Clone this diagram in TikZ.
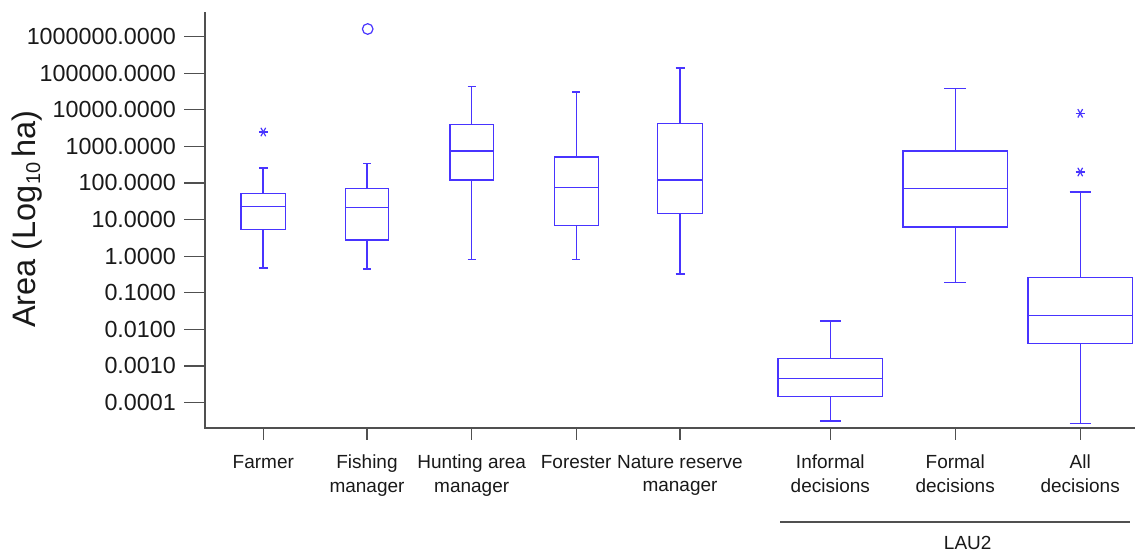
\documentclass[tikz,border=0pt]{standalone}
\usepackage{fontspec}
\setmainfont{Liberation Sans}
\definecolor{bx}{RGB}{72,52,255}
\definecolor{axc}{RGB}{80,80,80}
\definecolor{txt}{RGB}{25,25,25}
% #1 x, #2 half width, #3 cap half, #4 low cap, #5 box bottom, #6 median, #7 box top, #8 up cap, #9 whisker width
\newcommand\bxplot[9]{%
  \draw[boxline] (#1-#2,#7) rectangle (#1+#2,#5);
  \draw[boxline] (#1-#2,#6) -- (#1+#2,#6);
  \draw[boxline,line width=#9] (#1,#7) -- (#1,#8);
  \draw[boxline,line width=#9] (#1-#3,#8) -- (#1+#3,#8);
  \draw[boxline,line width=#9] (#1,#5) -- (#1,#4);
  \draw[boxline,line width=#9] (#1-#3,#4) -- (#1+#3,#4);
}
\newcommand\astmark[2]{%
  \draw[boxline] (#1-4.5,#2) -- (#1+4.5,#2);
  \draw[boxline] (#1-2.4,#2-4.2) -- (#1+2.4,#2+4.2);
  \draw[boxline] (#1-2.4,#2+4.2) -- (#1+2.4,#2-4.2);
}
\begin{document}
\begin{tikzpicture}[x=1pt,y=-1pt,
  boxline/.style={draw=bx,line width=1.2pt},
  axisline/.style={draw=axc,line width=1.2pt},
  ticklab/.style={anchor=east,inner sep=0pt,text=txt,font=\fontsize{23.3}{23.3}\selectfont},
  catlab/.style={anchor=north,inner sep=0pt,align=center,text=txt,font=\fontsize{19}{23.5}\selectfont}]
\useasboundingbox (0,0) rectangle (1135,552);
% axes
\coordinate (ytop) at (205,12);
\coordinate (origin) at (205,428);
\coordinate (xend) at (1135,428);
\draw[axisline] (ytop) -- (origin) -- (xend);
% y ticks and labels
\foreach \v/\lab [count=\i from 0] in {6/1000000.0000,5/100000.0000,4/10000.0000,3/1000.0000,2/100.0000,1/10.0000,0/1.0000,-1/0.1000,-2/0.0100,-3/0.0010,-4/0.0001}{
  \pgfmathsetmacro\yy{36.5+\i*36.6}
  \draw[axisline] (184,\yy) -- (205,\yy);
  \node[ticklab] (yl\i) at (176,\yy) {\lab};
}
% x ticks
\foreach \xx/\nm in {263.3/farmer,367/fishing,471.7/hunting,576.2/forester,680/nature,830.3/informal,955.2/formal,1080.2/all}{
  \draw[axisline] (\xx,428) -- (\xx,440);
  \coordinate (t\nm) at (\xx,455);
}
% category labels
\node[catlab] (lfarmer) at (tfarmer) {Farmer};
\node[catlab] (lfishing) at (tfishing) {Fishing\\manager};
\node[catlab] (lhunting) at (thunting) {Hunting area\\manager};
\node[catlab] (lforester) at (tforester) {Forester};
\node[catlab] (lnature) at (tnature) {Nature reserve\\manager};
\node[catlab] (linformal) at (tinformal) {Informal\\decisions};
\node[catlab] (lformal) at (tformal) {Formal\\decisions};
\node[catlab] (lall) at (tall) {All\\decisions};
% LAU2 group
\coordinate (lauA) at (780,522);
\coordinate (lauB) at (1130,522);
\draw[axisline] (lauA) -- (lauB);
\node[anchor=base,inner sep=0pt,text=txt,font=\fontsize{19}{19}\selectfont] (lau) at (967.7,549) {LAU2};
% y title
\node[rotate=90,anchor=base,inner sep=0pt,text=txt,font=\fontsize{32.5}{32.5}\selectfont] (ytitle) at (35,219)
  {Area (Log{\fontsize{20}{20}\selectfont\raisebox{-5pt}{10}}\,ha)};
% boxplots
\bxplot{263.3}{22.3}{4.5}{267.7}{229.3}{206.7}{193.3}{168}{2pt}
\bxplot{367}{21.7}{4}{269}{240}{207.7}{188.7}{163.3}{1.2pt}
\bxplot{471.7}{21.7}{4}{259.3}{180}{151}{124.7}{86.3}{1.2pt}
\bxplot{576.2}{22}{4}{259.3}{225.7}{187.3}{157}{92}{1.2pt}
\bxplot{680}{22.3}{4.5}{274}{213.3}{180}{123.3}{68}{2pt}
\bxplot{830.3}{52.3}{10.5}{421.3}{396.7}{378.7}{358.3}{321}{1.2pt}
\draw[boxline,line width=2pt] (819.8,421.3) -- (840.8,421.3);
\bxplot{955.2}{52.2}{11}{282.3}{227}{188.3}{151}{88.7}{1.2pt}
\bxplot{1080.2}{52.2}{10.5}{423.3}{343.3}{315.7}{277.3}{192}{1.2pt}
% outliers
\node[draw=bx,line width=1.2pt,circle,minimum size=10.6pt,inner sep=0pt] (out1) at (367.7,29) {};
\astmark{263.3}{132}
\astmark{1080.2}{113.3}
\astmark{1080.2}{172}
\end{tikzpicture}
\end{document}
